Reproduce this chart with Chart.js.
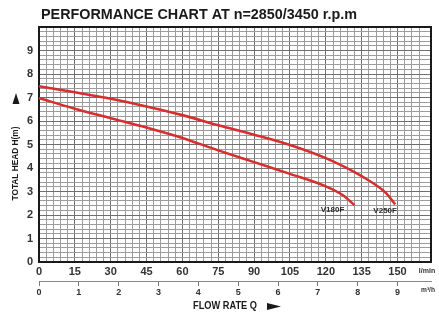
<!DOCTYPE html>
<html><head><meta charset="utf-8">
<script src="https://cdn.jsdelivr.net/npm/chart.js@4.4.0/dist/chart.umd.min.js"></script>
<style>html,body{margin:0;padding:0;background:#fff;}</style>
</head><body>
<canvas id="c" width="439" height="312"></canvas>
<script>
// ---- data ----
const seriesNames = ['V180F', 'V250F'];
const flowV180F = [0, 15, 30, 45, 60, 75, 90, 105, 120, 127, 132];
const headV180F = [6.98, 6.52, 6.12, 5.72, 5.28, 4.75, 4.25, 3.75, 3.22, 2.85, 2.42];
const flowV250F = [0, 15, 30, 45, 60, 75, 90, 105, 120, 135, 145, 149];
const headV250F = [7.48, 7.22, 6.95, 6.62, 6.25, 5.82, 5.42, 4.98, 4.42, 3.65, 2.95, 2.45];
const ticksLmin = [0, 15, 30, 45, 60, 75, 90, 105, 120, 135, 150];
const ticksM3h = [0, 1, 2, 3, 4, 5, 6, 7, 8, 9];
const ticksHead = [0, 1, 2, 3, 4, 5, 6, 7, 8, 9];
const chartTitle = 'PERFORMANCE CHART AT n=2850/3450 r.p.m';
const yTitle = 'TOTAL HEAD H(m)';
const xTitle = 'FLOW RATE Q';
const unitLmin = 'l/min';
const unitM3h = 'm³/h';
const flowMaxLmin = 164;
const lminPerM3h = 1000 / 60;

const FONT = "'Liberation Sans', Arial, sans-serif";
const near = (v, list) => list.some(t => Math.abs(t - v) < 1e-6);

function pts(xs, ys) { return xs.map((x, i) => ({ x: x, y: ys[i] })); }

const decor = {
  id: 'decor',
  beforeDatasetsDraw(chart) {
    const { ctx, chartArea: a } = chart;
    ctx.save();
    ctx.strokeStyle = '#1a1a1a';
    ctx.lineWidth = 2;
    ctx.strokeRect(a.left, a.top, a.right - a.left, a.bottom - a.top);
    ctx.restore();
  },
  afterDraw(chart) {
    const { ctx, chartArea: a, scales } = chart;
    ctx.save();
    ctx.fillStyle = '#1a1a1a';
    ctx.textBaseline = 'middle';
    // main title
    ctx.font = 'bold 14.5px ' + FONT;
    ctx.textAlign = 'left';
    ctx.fillText(chartTitle, 41, 15, 316);
    // units
    ctx.fillStyle = '#333';
    ctx.font = 'bold 7px ' + FONT;
    ctx.textAlign = 'center';
    ctx.fillText(unitLmin, 427, 271, 20);
    ctx.fillText(unitM3h, 428, 290, 14);
    // x title
    ctx.font = 'bold 10px ' + FONT;
    ctx.textAlign = 'left';
    ctx.fillStyle = '#1a1a1a';
    ctx.fillText(xTitle, 193, 306, 64);
    ctx.beginPath();
    ctx.moveTo(267, 303); ctx.lineTo(281, 306.5); ctx.lineTo(267, 310); ctx.closePath();
    ctx.fill();
    // y title
    ctx.save();
    ctx.translate(16, 163.5);
    ctx.rotate(-Math.PI / 2);
    ctx.font = 'bold 9px ' + FONT;
    ctx.textAlign = 'center';
    ctx.fillText(yTitle, 0, 0, 74);
    ctx.restore();
    ctx.beginPath();
    ctx.moveTo(12.5, 104); ctx.lineTo(16, 93); ctx.lineTo(19.5, 104); ctx.closePath();
    ctx.fill();
    // series labels near curve ends
    ctx.font = 'bold 8px ' + FONT;
    ctx.textAlign = 'center';
    ctx.fillStyle = '#2a2a2a';
    const xs = scales.x, ys = scales.y;
    const e1x = xs.getPixelForValue(flowV180F[flowV180F.length - 1]);
    const e1y = ys.getPixelForValue(headV180F[headV180F.length - 1]);
    ctx.fillText(seriesNames[0], e1x - 22, e1y + 5, 29);
    const e2x = xs.getPixelForValue(flowV250F[flowV250F.length - 1]);
    const e2y = ys.getPixelForValue(headV250F[headV250F.length - 1]);
    ctx.fillText(seriesNames[1], e2x - 10, e2y + 6, 29);
    ctx.restore();
  }
};

const lineStyle = {
  borderColor: '#d62f2f', borderWidth: 2.6, pointRadius: 0, fill: false,
  cubicInterpolationMode: 'monotone', clip: 4
};

new Chart(document.getElementById('c'), {
  type: 'line',
  data: {
    datasets: [
      Object.assign({ label: seriesNames[0], data: pts(flowV180F, headV180F) }, lineStyle),
      Object.assign({ label: seriesNames[1], data: pts(flowV250F, headV250F) }, lineStyle)
    ]
  },
  options: {
    responsive: false, animation: false, devicePixelRatio: 1,
    layout: { padding: { top: 27, right: 8, left: 0, bottom: 0 } },
    plugins: { legend: { display: false }, tooltip: { enabled: false }, title: { display: false } },
    scales: {
      x: {
        type: 'linear', position: 'bottom', weight: 0,
        min: 0, max: flowMaxLmin,
        afterFit(s) { s.height = 19; },
        ticks: {
          stepSize: 3, autoSkip: false, maxRotation: 0, padding: 3,
          color: '#333', font: { family: FONT, size: 11, weight: 'bold' },
          callback: v => near(v, ticksLmin) ? String(Math.round(v)) : ''
        },
        grid: {
          drawTicks: false,
          color: c => (c.tick && near(c.tick.value, ticksLmin)) ? '#707070' : '#9c9c9c',
          lineWidth: 1
        },
        border: { display: false }
      },
      x2: {
        type: 'linear', position: 'bottom', weight: 1,
        min: 0, max: flowMaxLmin / lminPerM3h,
        afterFit(s) { s.height = 31; },
        ticks: {
          stepSize: 1, autoSkip: false, maxRotation: 0, padding: 1,
          color: '#333', font: { family: FONT, size: 9, weight: 'bold' },
          callback: v => near(v, ticksM3h) ? String(Math.round(v)) : ''
        },
        grid: {
          drawOnChartArea: false, drawTicks: true, tickLength: 5,
          tickColor: c => (c.tick && near(c.tick.value, ticksM3h)) ? '#777' : 'rgba(0,0,0,0)'
        },
        border: { display: true, color: '#888', width: 1 }
      },
      y: {
        type: 'linear', min: 0, max: 10,
        afterFit(s) { s.width = 39; },
        ticks: {
          stepSize: 0.2, autoSkip: false, padding: 6,
          color: '#333', font: { family: FONT, size: 11, weight: 'bold' },
          callback: v => near(v, ticksHead) ? String(Math.round(v)) : ''
        },
        grid: {
          drawTicks: false,
          color: c => (c.tick && near(c.tick.value, ticksHead.concat([10]))) ? '#707070' : '#9c9c9c',
          lineWidth: 1
        },
        border: { display: false }
      }
    }
  },
  plugins: [decor]
});
</script>
</body></html>
